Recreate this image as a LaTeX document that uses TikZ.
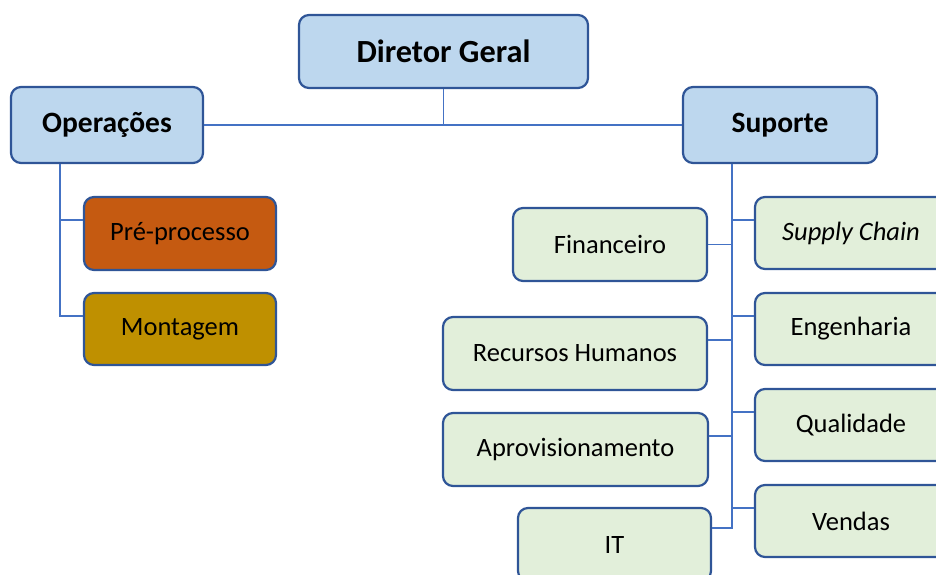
\documentclass[tikz,border=0pt]{standalone}
\usepackage{fontspec}
\setmainfont{Carlito}
\usetikzlibrary{calc}
\definecolor{boxline}{HTML}{2F5597}
\definecolor{linkline}{HTML}{4472C4}
\definecolor{headfill}{HTML}{BDD7EE}
\definecolor{unitfill}{HTML}{E2EFDA}
\definecolor{prefill}{HTML}{C55A11}
\definecolor{monfill}{HTML}{BF9000}
\tikzset{
  orgbox/.style={draw=boxline, line width=2.2pt, rounded corners=10pt,
    rectangle, inner sep=0pt, text=black},
  headbox/.style={orgbox, fill=headfill, font=\fontsize{29.5}{34}\selectfont\bfseries},
  unitbox/.style={orgbox, fill=unitfill, font=\fontsize{26.5}{31}\selectfont},
  link/.style={draw=linkline, line width=1.6pt},
}
\begin{document}
\begin{tikzpicture}[x=1pt,y=-1pt]
\useasboundingbox (0,0) rectangle (936,574);
\begin{scope}
\clip (0,0) rectangle (936,574);
% bus lines
\coordinate (opsbus) at (60,0);
\coordinate (supbus) at (732,0);

% head boxes
\node[headbox, minimum width=289pt, minimum height=73pt,
  font=\fontsize{32.3}{37}\selectfont\bfseries] (dir) at (443.5,51.5) {Diretor Geral};
\node[headbox, minimum width=192pt, minimum height=76pt] (ops) at (107,125) {Operações};
\node[headbox, minimum width=194pt, minimum height=76pt] (sup) at (780,125) {Suporte};

% operations units
\node[unitbox, fill=prefill, minimum width=192pt, minimum height=73pt] (pre) at (180,233.5) {Pré-processo};
\node[unitbox, fill=monfill, minimum width=192pt, minimum height=72pt] (mon) at (180,329) {Montagem};

% support units, left column
\node[unitbox, minimum width=194pt, minimum height=73pt] (fin) at (610,244.5) {Financeiro};
\node[unitbox, minimum width=264pt, minimum height=73pt] (rh) at (575,353.5) {Recursos Humanos};
\node[unitbox, minimum width=265pt, minimum height=73pt] (apr) at (575.5,449.5) {Aprovisionamento};
\node[unitbox, minimum width=193pt, minimum height=73pt] (it) at (614.5,544.5) {IT};

% support units, right column
\node[unitbox, minimum width=192pt, minimum height=72pt] (sc) at (851,233) {\itshape Supply Chain};
\node[unitbox, minimum width=192pt, minimum height=72pt] (eng) at (851,329) {Engenharia};
\node[unitbox, minimum width=192pt, minimum height=72pt] (qual) at (851,425) {Qualidade};
\node[unitbox, minimum width=192pt, minimum height=72pt] (ven) at (851,521) {Vendas};

% connectors (branches meet most boxes in their upper third)
\draw[link] (ops.east) -- (sup.west);
\draw[link] (dir.south) -- (dir.south |- ops.east);

\draw[link] (ops.south -| opsbus) |- ([yshift=-24pt]mon.north west);
\draw[link] ([yshift=-24pt]pre.north west) -- ([yshift=-24pt]pre.north west -| opsbus);

\draw[link] (sup.south -| supbus) |- ([yshift=-21pt]it.north east);
\draw[link] (fin.east) -- (fin.east -| supbus);
\draw[link] ([yshift=-24pt]rh.north east) -- ([yshift=-24pt]rh.north east -| supbus);
\draw[link] ([yshift=-24pt]apr.north east) -- ([yshift=-24pt]apr.north east -| supbus);
\draw[link] ([yshift=-24pt]sc.north west) -- ([yshift=-24pt]sc.north west -| supbus);
\draw[link] ([yshift=-24pt]eng.north west) -- ([yshift=-24pt]eng.north west -| supbus);
\draw[link] ([yshift=-24pt]qual.north west) -- ([yshift=-24pt]qual.north west -| supbus);
\draw[link] ([yshift=-24pt]ven.north west) -- ([yshift=-24pt]ven.north west -| supbus);
\end{scope}
\end{tikzpicture}
\end{document}
